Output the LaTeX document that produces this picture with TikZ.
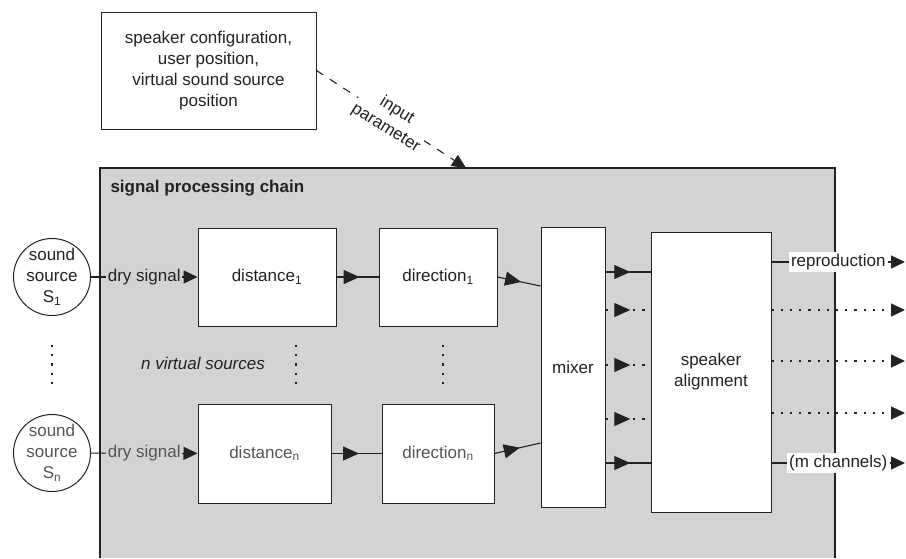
\documentclass[tikz,border=0pt]{standalone}
\usepackage{fontspec}
\setmainfont{Liberation Sans}
\usetikzlibrary{arrows.meta,decorations.markings}

\definecolor{ink}{HTML}{222222}
\definecolor{softink}{HTML}{555555}
\definecolor{chainfill}{HTML}{D2D3D5}
\newcommand\diagfont{\fontsize{17}{21}\selectfont}

\tikzset{
  every node/.style={font=\diagfont, text=ink},
  block/.style={draw=ink, line width=1pt, fill=white, inner sep=0pt, align=center},
  srccircle/.style={circle, draw=ink, line width=1pt, fill=white, minimum size=77pt, inner sep=0pt, align=center},
  wire/.style={draw=ink, line width=1.1pt},
  endtip/.style={-{Triangle[length=14pt,width=13pt]}},
  midtip/.style={postaction={decorate}, decoration={markings,
      mark=at position #1 with {\arrow{Triangle[length=16pt,width=14pt]}}}},
  dotline/.style={dash pattern=on 2.2pt off 7pt},
  dashline/.style={dash pattern=on 8pt off 8pt},
  onchain/.style={fill=chainfill, inner sep=1.5pt},
  onwhite/.style={fill=white, inner sep=2.5pt},
}

\begin{document}
\begin{tikzpicture}[x=1pt,y=-1pt]
\useasboundingbox (0,0) rectangle (906,558);

% processing chain background (open at the bottom)
\fill[chainfill] (100,168) rectangle (835,558);
\draw[wire] (100,558) -- (100,168) -- (835,168) -- (835,558);
\node[anchor=base west, font=\bfseries\diagfont] (chaintitle) at (107,192) {signal processing chain};
\coordinate (chaintop) at (466,168);

% input parameters
\node[block, minimum width=215pt, minimum height=117pt] (params) at (208.5,70.5)
  {speaker configuration,\\user position,\\virtual sound source\\position};
\draw[wire, dashline, endtip] (params.east) --
  node[onwhite, inner sep=0.5pt, rotate=-32, align=center, pos=0.5] {input\\parameter} (chaintop);

% sound sources
\node[srccircle] (src1) at (52,277) {sound\\source\\S\textsubscript{1}};
\node[srccircle, text=softink] (srcn) at (52,453) {sound\\source\\S\textsubscript{n}};

% per-source processing blocks
\node[block, minimum width=138pt, minimum height=98pt] (dist1) at (267,277) {distance\textsubscript{1}};
\node[block, minimum width=133pt, minimum height=99pt, text=softink] (distn) at (264.5,453.5) {distance\textsubscript{n}};
\node[block, minimum width=118pt, minimum height=98pt] (dir1) at (438,277) {direction\textsubscript{1}};
\node[block, minimum width=112pt, minimum height=99pt, text=softink] (dirn) at (438,453.5) {direction\textsubscript{n}};

% mixer and speaker alignment
\node[block, minimum width=64pt, minimum height=280pt] (mixer) at (573,367) {mixer};
\node[block, minimum width=120pt, minimum height=280pt] (align) at (711,372) {speaker\\alignment};

% ellipses between the first and the n-th source
\draw[wire, dotline] (52,345) -- (52,384);
\draw[wire, dotline] (296,345) -- (296,384);
\draw[wire, dotline] (443,345) -- (443,384);
\node[font=\itshape\diagfont] (nvs) at (203,363) {n virtual sources};

% source chains
\draw[wire, endtip] (src1) -- node[onchain] {dry signal} (dist1);
\draw[wire, endtip] (srcn) -- node[onchain, text=softink] {dry signal} (distn);
\draw[wire, midtip=0.55] (dist1) -- (dir1);
\draw[wire, midtip=0.55] (distn) -- (dirn);
\draw[wire, midtip=0.55] (dir1.east) -- ([yshift=81pt]mixer.west);
\draw[wire, midtip=0.55] (dirn.east) -- ([yshift=-76pt]mixer.west);

% mixer to speaker alignment
\coordinate (lvA) at (0,272);
\coordinate (lvB) at (0,310);
\coordinate (lvC) at (0,365);
\coordinate (lvD) at (0,419);
\coordinate (lvE) at (0,463);
\draw[wire, midtip=0.55] (mixer.east |- lvA) -- (align.west |- lvA);
\draw[wire, dotline, midtip=0.55] (mixer.east |- lvB) -- (align.west |- lvB);
\draw[wire, dotline, midtip=0.55] (mixer.east |- lvC) -- (align.west |- lvC);
\draw[wire, dotline, midtip=0.55] (mixer.east |- lvD) -- (align.west |- lvD);
\draw[wire, midtip=0.55] (mixer.east |- lvE) -- (align.west |- lvE);

% output channels
\coordinate (outA) at (905,262);
\coordinate (outB) at (905,310);
\coordinate (outC) at (905,361);
\coordinate (outD) at (905,413);
\coordinate (outE) at (905,463);
\draw[wire, endtip] (align.east |- outA) -- node[onwhite] {reproduction} (outA);
\draw[wire, dotline, endtip] (align.east |- outB) -- (outB);
\draw[wire, dotline, endtip] (align.east |- outC) -- (outC);
\draw[wire, dotline, endtip] (align.east |- outD) -- (outD);
\draw[wire, endtip] (align.east |- outE) -- node[onwhite] {(m channels)} (outE);
\end{tikzpicture}
\end{document}
